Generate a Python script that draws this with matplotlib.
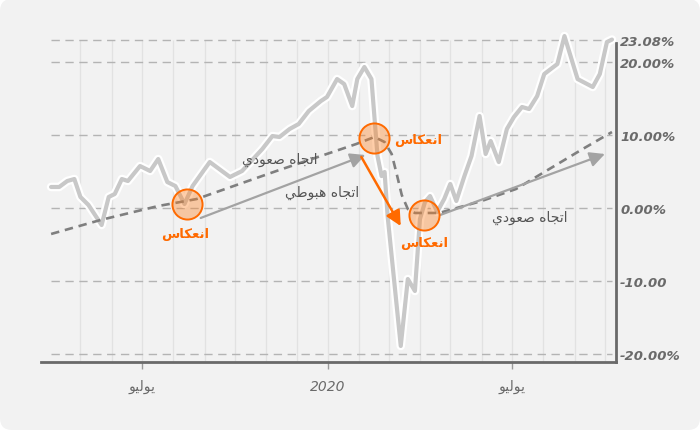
import matplotlib
matplotlib.use('Agg')
import matplotlib.pyplot as plt
import matplotlib.dates as mdates
import matplotlib.patheffects as pe
from matplotlib.patches import FancyBboxPatch
import pandas as pd

# ---------------- data ----------------
price_dates = ['2019-04-02', '2019-04-10', '2019-04-18', '2019-04-25', '2019-05-01', '2019-05-09',
               '2019-05-22', '2019-05-29', '2019-06-04', '2019-06-11', '2019-06-17', '2019-06-29',
               '2019-07-09', '2019-07-17', '2019-07-26', '2019-08-03', '2019-08-12', '2019-08-20',
               '2019-09-06', '2019-09-26', '2019-10-08', '2019-10-28', '2019-11-07', '2019-11-14',
               '2019-11-24', '2019-12-03', '2019-12-13', '2019-12-25', '2019-12-31', '2020-01-10',
               '2020-01-17', '2020-01-25', '2020-01-30', '2020-02-06', '2020-02-13', '2020-02-19',
               '2020-02-23', '2020-02-26', '2020-02-29', '2020-03-13', '2020-03-20', '2020-03-27',
               '2020-04-01', '2020-04-06', '2020-04-11', '2020-04-18', '2020-04-25', '2020-05-01',
               '2020-05-07', '2020-05-15', '2020-05-22', '2020-05-30', '2020-06-05', '2020-06-10',
               '2020-06-18', '2020-06-26', '2020-07-03', '2020-07-11', '2020-07-18', '2020-07-26',
               '2020-08-02', '2020-08-15', '2020-08-22', '2020-09-04', '2020-09-19', '2020-09-26',
               '2020-10-03', '2020-10-08']
price_values = [2.88, 2.88, 3.70, 3.97, 1.51, 0.41,
                -2.33, 1.51, 1.92, 3.97, 3.70, 5.75,
                5.07, 6.71, 3.56, 3.01, 0.55, 3.01,
                6.30, 4.25, 5.07, 8.08, 9.86, 9.73,
                10.82, 11.51, 13.29, 14.66, 15.21, 17.67,
                16.99, 13.97, 17.67, 19.32, 17.67, 7.12,
                4.38, 4.93, -1.10, -18.90, -9.73, -11.37,
                -1.51, 0.82, 1.64, -0.55, 1.23, 3.29,
                0.96, 4.38, 7.12, 12.60, 7.40, 9.18,
                6.30, 10.82, 12.47, 13.84, 13.56, 15.34,
                18.36, 19.73, 23.56, 17.67, 16.58, 18.36,
                22.74, 23.08]

trend_dates = ['2019-04-02', '2019-05-21', '2019-07-17', '2019-08-24', '2019-11-11', '2020-01-29',
               '2020-02-16', '2020-02-26', '2020-03-04', '2020-03-09', '2020-03-14', '2020-03-20',
               '2020-03-27', '2020-04-20', '2020-06-01', '2020-07-05', '2020-08-07', '2020-09-09',
               '2020-10-08']
trend_values = [-3.56, -1.64, 0.27, 1.23, 5.07, 8.77,
                9.73, 9.04, 7.40, 4.66, 1.78, -0.14,
                -0.68, -0.68, 0.96, 2.60, 5.34, 8.08,
                10.41]

reversal_dates = ['2019-08-14', '2020-02-16', '2020-04-05']
reversal_values = [0.55, 9.59, -0.96]

ytick_values = [23.08, 20, 10, 0, -10, -20]
ytick_labels = ['23.08%', '20.00%', '10.00%', '0.00%', '-10.00', '-20.00%']
xtick_dates = ['2019-07-01', '2020-01-01', '2020-07-01']
xtick_labels = ['يوليو', '2020', 'يوليو']

reversal_label = 'انعكاس'
up_label = 'اتجاه صعودي'
down_label = 'اتجاه هبوطي'

# ---------------- arabic shaping (presentation forms) ----------------
FORMS = {
    'ا': ('\uFE8D', '\uFE8E', None, None),
    'ب': ('\uFE8F', '\uFE90', '\uFE91', '\uFE92'),
    'ت': ('\uFE95', '\uFE96', '\uFE97', '\uFE98'),
    'ج': ('\uFE9D', '\uFE9E', '\uFE9F', '\uFEA0'),
    'د': ('\uFEA9', '\uFEAA', None, None),
    'س': ('\uFEB1', '\uFEB2', '\uFEB3', '\uFEB4'),
    'ص': ('\uFEB9', '\uFEBA', '\uFEBB', '\uFEBC'),
    'ط': ('\uFEC1', '\uFEC2', '\uFEC3', '\uFEC4'),
    'ع': ('\uFEC9', '\uFECA', '\uFECB', '\uFECC'),
    'ك': ('\uFED9', '\uFEDA', '\uFEDB', '\uFEDC'),
    'ل': ('\uFEDD', '\uFEDE', '\uFEDF', '\uFEE0'),
    'ن': ('\uFEE5', '\uFEE6', '\uFEE7', '\uFEE8'),
    'ه': ('\uFEE9', '\uFEEA', '\uFEEB', '\uFEEC'),
    'و': ('\uFEED', '\uFEEE', None, None),
    'ي': ('\uFEF1', '\uFEF2', '\uFEF3', '\uFEF4'),
}


def shape(text):
    chars = list(text)

    def dual(c):
        return c in FORMS and FORMS[c][2] is not None

    out = []
    for i, c in enumerate(chars):
        if c not in FORMS:
            out.append(c)
            continue
        prev = chars[i - 1] if i > 0 else None
        nxt = chars[i + 1] if i + 1 < len(chars) else None
        jp = prev is not None and dual(prev)
        jn = dual(c) and nxt is not None and nxt in FORMS
        iso, fin, ini, med = FORMS[c]
        if jp and jn:
            out.append(med)
        elif jp:
            out.append(fin)
        elif jn:
            out.append(ini)
        else:
            out.append(iso)
    if any(ch in FORMS for ch in chars):
        return ''.join(reversed(out))
    return text


plt.rcParams['font.family'] = ['DejaVu Sans']

pd_price = pd.to_datetime(price_dates)
pd_trend = pd.to_datetime(trend_dates)
pd_rev = pd.to_datetime(reversal_dates)
D = lambda s: mdates.date2num(pd.Timestamp(s))

W, H = 700, 431
fig = plt.figure(figsize=(7, 4.31), dpi=100, facecolor='white')
bg = FancyBboxPatch((0, 0), 7, 4.31, boxstyle='round,pad=0,rounding_size=0.12',
                    transform=fig.dpi_scale_trans, facecolor='#f2f2f2', edgecolor='none', zorder=-10)
fig.patches.append(bg)

ax = fig.add_axes([41 / W, 68 / H, (616 - 41) / W, (403 - 68) / H])
ax.set_facecolor('none')

xmin, xmax = D('2019-03-23'), D('2020-10-12')
ymin, ymax = -21.1, 24.8
ax.set_xlim(xmin, xmax)
ax.set_ylim(ymin, ymax)

# vertical month grid
months = pd.date_range('2019-05-01', '2020-10-01', freq='MS')
ax.vlines(mdates.date2num(months), ymin, 23.08, color='#e2e2e2', lw=0.9, zorder=0)
# horizontal dashed grid
ax.hlines(ytick_values, mdates.date2num(pd_price[0]), mdates.date2num(pd_price[-1]),
          color='#b4b4b4', lw=1.0, linestyles=(0, (6, 4)), zorder=0.5)

# price line
ax.plot(pd_price, price_values, color='#c8c8c8', lw=3.0, solid_joinstyle='round',
        solid_capstyle='round', zorder=3, clip_on=False,
        path_effects=[pe.Stroke(linewidth=6.2, foreground='white'), pe.Normal()])

# trend line
ax.plot(pd_trend, trend_values, color='#7f7f7f', lw=1.9, linestyle=(0, (3.2, 2.2)), zorder=4)

# arrows
arrow_gray = dict(arrowstyle='-|>,head_length=0.9,head_width=0.45', color='#a3a3a3', lw=1.6,
                  shrinkA=0, shrinkB=0)
ax.annotate('', xy=(D('2020-02-07'), 7.26), xytext=(D('2019-08-28'), -1.37),
            arrowprops=arrow_gray, zorder=5)
ax.annotate('', xy=(D('2020-10-01'), 7.40), xytext=(D('2020-04-21'), -0.96),
            arrowprops=arrow_gray, zorder=5)
ax.annotate('', xy=(D('2020-03-13'), -2.47), xytext=(D('2020-02-03'), 6.99),
            arrowprops=dict(arrowstyle='-|>,head_length=0.9,head_width=0.45', color='#ff6a00',
                            lw=1.8, shrinkA=0, shrinkB=0), zorder=5)

# reversal circles
ax.scatter(pd_rev, reversal_values, s=470, facecolor=(1.0, 0.5, 0.12, 0.38),
           edgecolor='#ff6a00', linewidth=1.4, zorder=6)

# labels
orange = '#ff6a00'
ax.text(D('2019-08-13'), -3.55, shape(reversal_label), color=orange, fontsize=9.5,
        fontweight='bold', ha='center', va='center', zorder=7)
ax.text(D('2020-03-30'), 9.32, shape(reversal_label), color=orange, fontsize=9.5,
        fontweight='bold', ha='center', va='center', zorder=7)
ax.text(D('2020-04-05'), -4.66, shape(reversal_label), color=orange, fontsize=9.5,
        fontweight='bold', ha='center', va='center', zorder=7)
ax.text(D('2019-11-14'), 6.71, shape(up_label), color='#555555', fontsize=10,
        ha='center', va='center', zorder=7)
ax.text(D('2019-12-26'), 2.19, shape(down_label), color='#555555', fontsize=10,
        ha='center', va='center', zorder=7)
ax.text(D('2020-07-19'), -1.23, shape(up_label), color='#555555', fontsize=10,
        ha='center', va='center', zorder=7)

# spines
for s in ['left', 'top']:
    ax.spines[s].set_visible(False)
ax.spines['bottom'].set_color('#6a6a6a')
ax.spines['bottom'].set_linewidth(2.0)
ax.spines['right'].set_color('#6a6a6a')
ax.spines['right'].set_linewidth(2.0)
ax.spines['right'].set_bounds(ymin, 22.6)

# y ticks on right
ax.yaxis.tick_right()
ax.set_yticks(ytick_values)
ax.set_yticklabels(ytick_labels)
ax.tick_params(axis='y', length=0, pad=3, labelsize=9.5, labelcolor='#6a6a6a')
for t in ax.get_yticklabels():
    t.set_fontweight('bold')
    t.set_fontstyle('italic')

# x ticks
ax.set_xticks(mdates.date2num(pd.to_datetime(xtick_dates)))
ax.set_xticklabels([shape(l) for l in xtick_labels])
ax.tick_params(axis='x', length=5, width=1, color='#9a9a9a', pad=7, labelsize=10,
               labelcolor='#6a6a6a')
for t, raw in zip(ax.get_xticklabels(), xtick_labels):
    if raw.isdigit():
        t.set_fontstyle('italic')

fig.savefig('out.png', dpi=100, facecolor='white')
